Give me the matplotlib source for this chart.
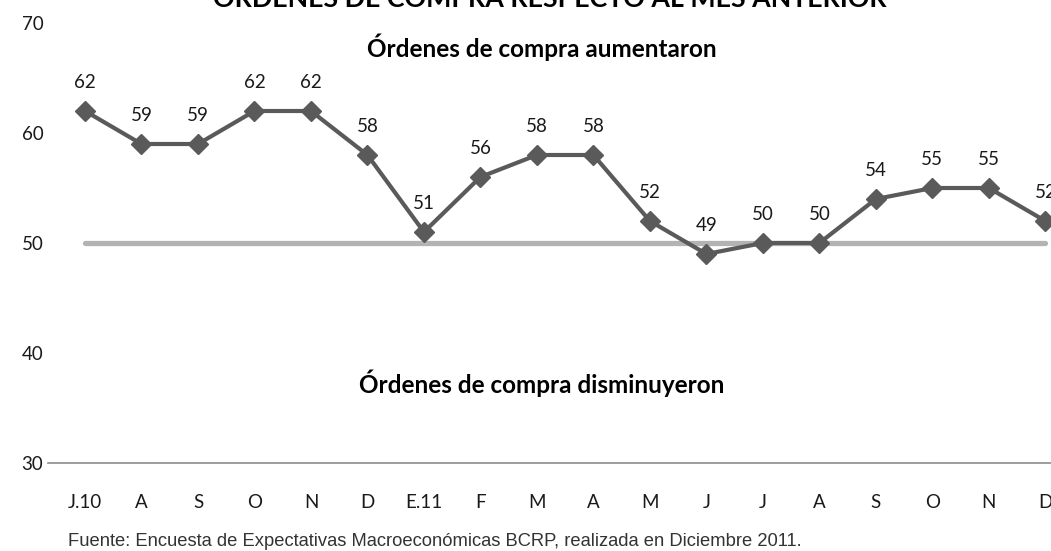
import matplotlib.pyplot as plt

meses = ["J.10", "A", "S", "O", "N", "D", "E.11", "F", "M", "A",
         "M", "J", "J", "A", "S", "O", "N", "D"]
ordenes = [62, 59, 59, 62, 62, 58, 51, 56, 58, 58,
           52, 49, 50, 50, 54, 55, 55, 52]
umbral = 50
y_ticks = [30, 40, 50, 60, 70]


def main():
    fig = plt.figure(figsize=(10.51, 5.51), dpi=100)
    ax = fig.add_axes([48 / 1051, 88 / 551, 1 - 48 / 1051, 440 / 551])

    x = list(range(len(meses)))
    ax.plot([x[0], x[-1]], [umbral, umbral], color="#b3b3b3", lw=3.8,
            solid_capstyle="round", zorder=2)
    ax.plot(x, ordenes, color="#5a5a5a", lw=3.0, marker="D", ms=10.5,
            zorder=3)

    for xi, v in zip(x, ordenes):
        ax.annotate(str(v), (xi, v), xytext=(0, 20.5), textcoords="offset points",
                    ha="center", va="center", fontsize=13.5, family="Lato",
                    color="#1a1a1a")

    ax.set_xlim(-0.655, 17.1)
    ax.set_ylim(30, 70)
    ax.set_yticks(y_ticks)
    ax.set_yticklabels([str(t) for t in y_ticks], family="Lato", fontsize=13.5,
                       ha="left", color="#1a1a1a")
    ax.tick_params(axis="y", length=0, pad=19)
    ax.set_xticks(x)
    ax.set_xticklabels(meses, family="Lato", fontsize=13.5, color="#1a1a1a")
    ax.tick_params(axis="x", length=0, pad=22)

    for side in ["top", "right", "left"]:
        ax.spines[side].set_visible(False)
    ax.spines["bottom"].set_color("#8c8c8c")
    ax.spines["bottom"].set_linewidth(1.2)

    fig.text(550 / 1051, 1 - 7 / 551, "ÓRDENES DE COMPRA RESPECTO AL MES ANTERIOR",
             ha="center", va="baseline", fontsize=19.3, fontweight="bold",
             family="Lato")
    fig.text(542 / 1051, 1 - 47 / 551, "Órdenes de compra aumentaron",
             ha="center", va="center", fontsize=17.5, fontweight="bold",
             family="Lato")
    fig.text(542 / 1051, 1 - 383 / 551, "Órdenes de compra disminuyeron",
             ha="center", va="center", fontsize=17.5, fontweight="bold",
             family="Lato")
    fig.text(68 / 1051, 1 - 541 / 551,
             "Fuente: Encuesta de Expectativas Macroeconómicas BCRP, "
             "realizada en Diciembre 2011.",
             ha="left", va="center", fontsize=13.2, family="Liberation Sans",
             color="#333333")

    fig.savefig("out.png", dpi=100)


if __name__ == "__main__":
    main()
